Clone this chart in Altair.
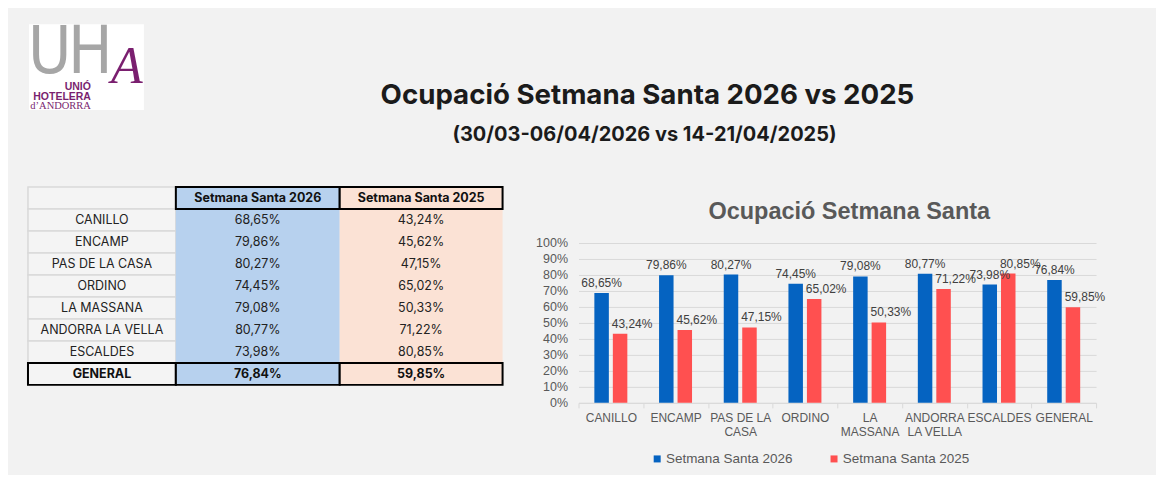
import altair as alt
import pandas as pd

# ---------------- data ----------------
categories = ["CANILLO", "ENCAMP", "PAS DE LA CASA", "ORDINO", "LA MASSANA",
              "ANDORRA LA VELLA", "ESCALDES", "GENERAL"]
axis_label_lines = [["CANILLO"], ["ENCAMP"], ["PAS DE LA", "CASA"], ["ORDINO"],
                    ["LA", "MASSANA"], ["ANDORRA", "LA VELLA"], ["ESCALDES"], ["GENERAL"]]
series = ["Setmana Santa 2026", "Setmana Santa 2025"]
occ_2026 = [68.65, 79.86, 80.27, 74.45, 79.08, 80.77, 73.98, 76.84]
occ_2025 = [43.24, 45.62, 47.15, 65.02, 50.33, 71.22, 80.85, 59.85]
y_ticks = [0, 10, 20, 30, 40, 50, 60, 70, 80, 90, 100]

main_title = "Ocupació Setmana Santa 2026 vs 2025"
main_subtitle = "(30/03-06/04/2026 vs 14-21/04/2025)"
chart_title = "Ocupació Setmana Santa"
logo_texts = ["U", "H", "A", "UNIÓ", "HOTELERA", "d\u2019ANDORRA"]

BLUE = "#0563c1"
RED = "#ff5050"
PURPLE = "#7a1f6f"


def pct(v):
    return f"{v:.2f}".replace(".", ",") + "%"


# ---------------- header (logo + titles) ----------------
one = alt.Data(values=[{}])


def htext(txt, x, y, **kw):
    return alt.Chart(one).mark_text(text=txt, **kw).encode(x=alt.value(x), y=alt.value(y))


logo_box = alt.Chart(one).mark_rect(color="white").encode(
    x=alt.value(1), x2=alt.value(116), y=alt.value(16), y2=alt.value(102))

LOGO_FONT = "Liberation Sans Narrow, DejaVu Sans Condensed, Liberation Sans"
header = alt.layer(
    logo_box,
    htext(logo_texts[0], 0, 65, align="left", baseline="alphabetic",
          font=LOGO_FONT, fontSize=66, color="#a6a6a6"),
    htext(logo_texts[1], 40, 65, align="left", baseline="alphabetic",
          font=LOGO_FONT, fontSize=66, color="#a6a6a6"),
    htext(logo_texts[2], 99, 75, align="center", baseline="alphabetic",
          font="Liberation Serif", fontStyle="italic", fontSize=52, color=PURPLE),
    htext(logo_texts[3], 63, 82, align="right", baseline="alphabetic",
          font="Liberation Sans", fontWeight="bold", fontSize=10.5, color=PURPLE),
    htext(logo_texts[4], 63, 92, align="right", baseline="alphabetic",
          font="Liberation Sans", fontWeight="bold", fontSize=10.5, color=PURPLE),
    htext(logo_texts[5], 63, 101, align="right", baseline="alphabetic",
          font="Liberation Serif", fontSize=10.5, color=PURPLE),
    htext(main_title, 620, 96, align="center", baseline="alphabetic",
          font="Inter", fontWeight="bold", fontSize=27.7, color="#1b1b1b"),
    htext(main_subtitle, 617, 133, align="center", baseline="alphabetic",
          font="Inter", fontWeight="bold", fontSize=20, color="#1b1b1b"),
).properties(width=1129, height=178)

# ---------------- table ----------------
HEADER = "header"
row_order = [HEADER] + categories


def table_column(texts, fill, width, cell_stroke, box_header):
    df = pd.DataFrame({
        "row": row_order,
        "text": texts,
        "bold": [True] + [c == "GENERAL" for c in categories],
        "boxed": [box_header] + [c == "GENERAL" for c in categories],
    })
    base = alt.Chart(df).encode(
        y=alt.Y("row:N", sort=row_order, axis=None,
                scale=alt.Scale(paddingInner=0, paddingOuter=0)))
    cells = base.mark_rect(fill=fill, stroke=cell_stroke,
                           strokeWidth=1.5 if cell_stroke else 0).encode(
        x=alt.value(0), x2=alt.value(width))
    boxes = base.transform_filter("datum.boxed").mark_rect(
        filled=False, stroke="#000000", strokeWidth=2).encode(
        x=alt.value(0), x2=alt.value(width))
    txt_norm = base.transform_filter("!datum.bold").mark_text(
        font="Inter", fontSize=12.5, color="#222222", align="center", baseline="middle"
    ).encode(x=alt.value(width / 2), text="text:N")
    txt_bold = base.transform_filter("datum.bold").mark_text(
        font="Inter", fontSize=12.5, fontWeight="bold", color="#111111",
        align="center", baseline="middle"
    ).encode(x=alt.value(width / 2), text="text:N")
    return alt.layer(cells, boxes, txt_norm, txt_bold).properties(width=width, height=198)


col_labels = table_column([""] + categories, "#f4f4f4", 148, "#d9d9d9", False)
col_2026 = table_column([series[0]] + [pct(v) for v in occ_2026], "#b7d1ee", 164, None, True)
col_2025 = table_column([series[1]] + [pct(v) for v in occ_2025], "#fbe2d5", 163, None, True)
table = alt.hconcat(col_labels, col_2026, col_2025, spacing=0, bounds="flush")

# ---------------- bar chart ----------------
PLOT_W, PLOT_H = 518, 160

bars_df = pd.DataFrame({
    "category": categories * 2,
    "series": [s for s in series for _ in categories],
    "value": occ_2026 + occ_2025,
})
bars_df["label"] = bars_df["value"].map(pct)

label_expr = ""
for cat, lines in zip(categories, axis_label_lines):
    if len(lines) > 1:
        arr = "[" + ", ".join("'" + l + "'" for l in lines) + "]"
        label_expr += f"datum.value == '{cat}' ? {arr} : "
label_expr += "datum.value"

base = alt.Chart(bars_df).encode(
    x=alt.X("category:N", sort=categories, title=None,
            scale=alt.Scale(paddingInner=0, paddingOuter=0),
            axis=alt.Axis(labelAngle=0, labelExpr=label_expr, tickBand="extent",
                          tickSize=5, tickColor="#d9d9d9", domainColor="#d9d9d9",
                          labelFont="Liberation Sans", labelFontSize=12,
                          labelColor="#595959", labelPadding=5, labelLineHeight=14,
                          labelBaseline="top", grid=False)),
    xOffset=alt.XOffset("series:N", sort=series,
                        scale=alt.Scale(paddingInner=0.216, paddingOuter=0.858)),
    y=alt.Y("value:Q", title=None, scale=alt.Scale(domain=[0, 100], nice=False),
            axis=alt.Axis(values=y_ticks, labelExpr="datum.value + '%'", domain=False,
                          ticks=False, grid=True, gridColor="#d9d9d9",
                          labelFont="Liberation Sans", labelFontSize=12.5,
                          labelColor="#595959", labelPadding=11)),
)

bars = base.mark_bar().encode(
    color=alt.Color("series:N", sort=series,
                    scale=alt.Scale(domain=series, range=[BLUE, RED]),
                    legend=alt.Legend(orient="none", legendX=623, legendY=444,
                                      direction="horizontal", title=None,
                                      symbolType="square", symbolSize=49,
                                      symbolStrokeWidth=0, labelFont="Liberation Sans",
                                      labelFontSize=13.5, labelColor="#595959",
                                      labelOffset=2, columnPadding=34, padding=0)))

lbl_blue = base.transform_filter(alt.datum.series == series[0]).mark_text(
    baseline="bottom", dy=-3, font="Liberation Sans", fontSize=12, color="#404040"
).encode(text="label:N")
lbl_red = base.transform_filter(alt.datum.series == series[1]).mark_text(
    baseline="bottom", dy=-3, dx=12, font="Liberation Sans", fontSize=12, color="#404040"
).encode(text="label:N")

bar_chart = alt.layer(bars, lbl_blue, lbl_red).properties(width=PLOT_W, height=PLOT_H)

title_view = alt.Chart(one).mark_text(
    text=chart_title, font="Liberation Sans", fontSize=23.5, fontWeight="bold",
    color="#595959", align="center", baseline="middle"
).encode(x=alt.value(PLOT_W / 2 + 12), y=alt.value(25)).properties(width=PLOT_W, height=50)

right = alt.vconcat(title_view, bar_chart, spacing=0)

row2 = alt.hconcat(table, right, spacing=32)

chart = alt.vconcat(header, row2, spacing=0).properties(
    padding={"left": 19, "top": 0, "right": 0, "bottom": 9}
).configure(background="#f2f2f2", font="Liberation Sans").configure_view(stroke=None)

chart.save("out.html", embed_options={"renderer": "svg", "actions": False})
